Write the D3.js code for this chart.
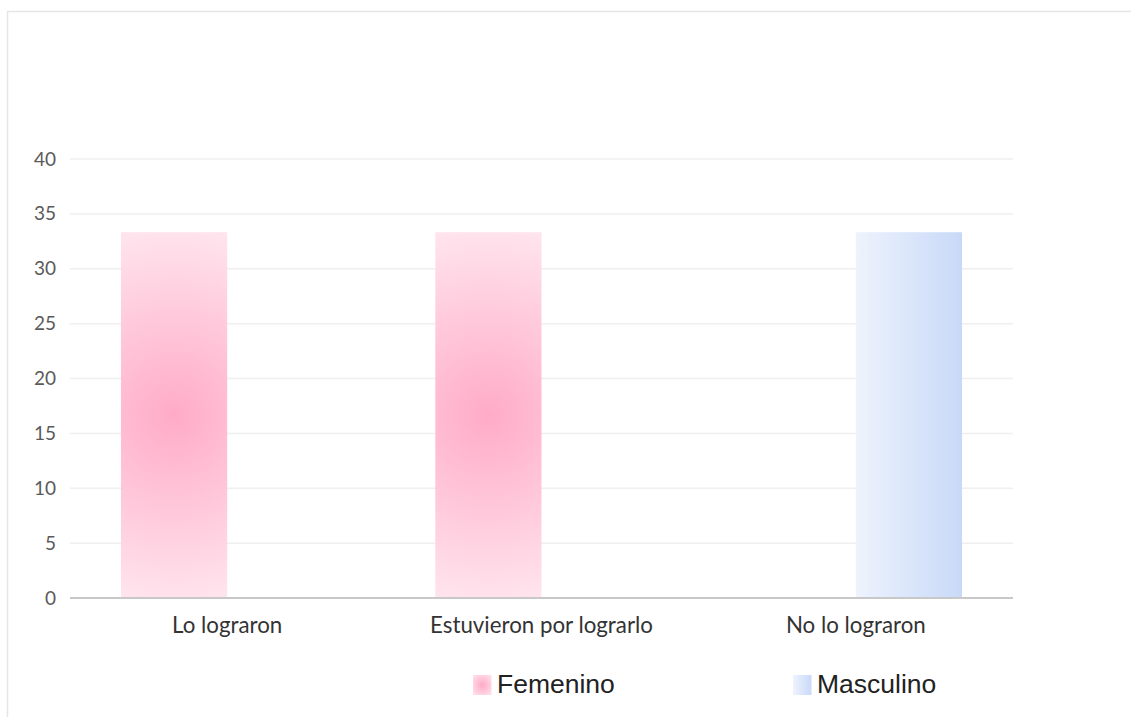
<!DOCTYPE html>
<html>
<head>
<meta charset="utf-8">
<script src="https://cdn.jsdelivr.net/npm/d3@7"></script>
<style>
  html, body { margin: 0; padding: 0; background: #fff; }
  svg { display: block; }
</style>
</head>
<body>
<svg id="chart" width="1131" height="717"></svg>
<script>
// Chart data
const categories = ["Lo lograron", "Estuvieron por lograrlo", "No lo lograron"];
const seriesNames = ["Femenino", "Masculino"];
const femenino = [33.33, 33.33, 0];
const masculino = [0, 0, 33.33];
const yTicks = [0, 5, 10, 15, 20, 25, 30, 35, 40];

const svg = d3.select("#chart");
const W = 1131, H = 717;
const margin = { left: 70, right: 118, top: 159, bottom: 119 };
const innerW = W - margin.left - margin.right;
const innerH = H - margin.top - margin.bottom;

// Outer frame (top and left edges)
svg.append("line").attr("x1", 7).attr("x2", W).attr("y1", 11.5).attr("y2", 11.5)
  .attr("stroke", "#e6e6e6").attr("stroke-width", 1.5);
svg.append("line").attr("x1", 7.5).attr("x2", 7.5).attr("y1", 11).attr("y2", H)
  .attr("stroke", "#e6e6e6").attr("stroke-width", 1.5);

const defs = svg.append("defs");

const blue = defs.append("linearGradient").attr("id", "gradMas")
  .attr("x1", "0%").attr("x2", "100%").attr("y1", "0%").attr("y2", "0%");
blue.append("stop").attr("offset", "0%").attr("stop-color", "#eef3fd");
blue.append("stop").attr("offset", "100%").attr("stop-color", "#c8d9f8");

const legPink = defs.append("radialGradient").attr("id", "legFem")
  .attr("cx", "50%").attr("cy", "50%").attr("r", "60%");
legPink.append("stop").attr("offset", "0%").attr("stop-color", "#ffa9c5");
legPink.append("stop").attr("offset", "100%").attr("stop-color", "#ffdce8");

const legendFills = ["url(#legFem)", "url(#gradMas)"];

const g = svg.append("g").attr("transform", `translate(${margin.left},${margin.top})`);

const x0 = d3.scaleBand().domain(categories).range([0, innerW]).paddingInner(0).paddingOuter(0);
const x1 = d3.scaleBand().domain(seriesNames).range([0, x0.bandwidth()]).paddingInner(0).paddingOuter(0.48);
const y = d3.scaleLinear().domain([0, 40]).range([innerH, 0]);

// Horizontal gridlines
g.append("g").selectAll("line").data(yTicks.filter(d => d > 0)).join("line")
  .attr("x1", 0).attr("x2", innerW)
  .attr("y1", d => y(d)).attr("y2", d => y(d))
  .attr("stroke", "#efefef").attr("stroke-width", 1.5);

// Y axis labels
const yAxis = d3.axisLeft(y).tickValues(yTicks).tickSize(0).tickPadding(14);
const ya = g.append("g").call(yAxis);
ya.select(".domain").remove();
ya.selectAll("text").attr("font-family", "Lato, 'Open Sans', sans-serif")
  .attr("font-size", 19).attr("fill", "#5a5a5a");

// Bars: pink bars use a circular glow centred on each bar
const rows = categories.map((c, i) => ({ cat: c, vals: [femenino[i], masculino[i]] }));
const barData = [];
rows.forEach((r, i) => r.vals.forEach((v, k) => {
  if (v > 0) barData.push({ cat: r.cat, v, k, id: `bar${i}_${k}` });
}));

barData.forEach(b => {
  if (b.k === 0) {
    const bx = x0(b.cat) + x1(seriesNames[0]);
    const top = y(b.v), bot = y(0);
    const rg = defs.append("radialGradient").attr("id", b.id)
      .attr("gradientUnits", "userSpaceOnUse")
      .attr("cx", bx + x1.bandwidth() / 2).attr("cy", (top + bot) / 2)
      .attr("r", (bot - top) * 0.55);
    rg.append("stop").attr("offset", "0%").attr("stop-color", "#ffabc7");
    rg.append("stop").attr("offset", "100%").attr("stop-color", "#ffe8f0");
  }
});

g.selectAll(".bar").data(barData).join("rect")
  .attr("class", "bar")
  .attr("x", b => x0(b.cat) + x1(seriesNames[b.k]))
  .attr("width", x1.bandwidth())
  .attr("y", b => y(b.v))
  .attr("height", b => y(0) - y(b.v))
  .attr("fill", b => b.k === 0 ? `url(#${b.id})` : "url(#gradMas)");

// X axis baseline and labels
g.append("line").attr("x1", 0).attr("x2", innerW).attr("y1", y(0)).attr("y2", y(0))
  .attr("stroke", "#c8c8c8").attr("stroke-width", 2);
const xAxis = d3.axisBottom(x0).tickSize(0).tickPadding(19);
const xa = g.append("g").attr("transform", `translate(0,${innerH})`).call(xAxis);
xa.select(".domain").remove();
xa.selectAll("text").attr("font-family", "Lato, 'Open Sans', sans-serif")
  .attr("font-size", 22.3).attr("fill", "#333");

// Legend
const legendX = [473, 793];
const lg = svg.append("g");
seriesNames.forEach((name, k) => {
  lg.append("rect").attr("x", legendX[k]).attr("y", 675).attr("width", 18.5).attr("height", 20)
    .attr("fill", legendFills[k]);
  lg.append("text").attr("x", legendX[k] + 24).attr("y", 693)
    .attr("font-family", "'Liberation Sans', Arial, sans-serif").attr("font-size", 26.5)
    .attr("fill", "#222").text(name);
});
</script>
</body>
</html>
